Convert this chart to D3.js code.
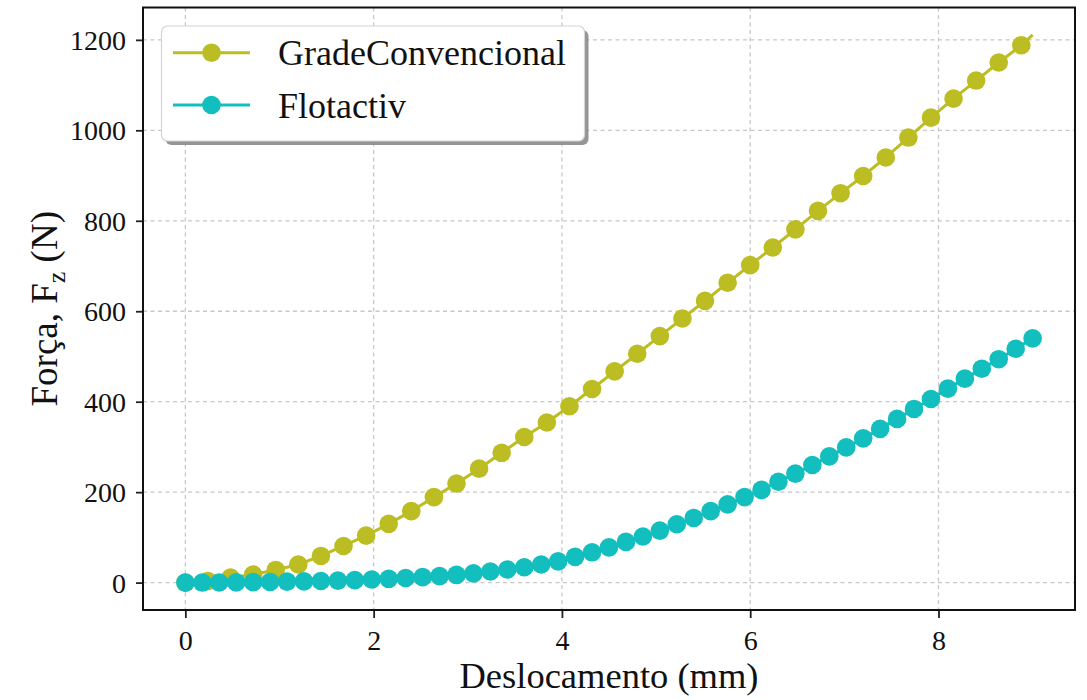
<!DOCTYPE html>
<html>
<head>
<meta charset="utf-8">
<script src="https://cdn.jsdelivr.net/npm/d3@7"></script>
<style>
  html, body { margin: 0; padding: 0; background: #ffffff; }
  svg { display: block; }
</style>
</head>
<body>
<svg id="chart" width="1087" height="700"></svg>
<script>
// ---- Data ----
const seriesNames = ["GradeConvencional", "Flotactiv"];

// GradeConvencional: markers every 0.24 mm; the final point (9.0) is line-only
const gradeX = [0, 0.24, 0.48, 0.72, 0.96, 1.20, 1.44, 1.68, 1.92, 2.16, 2.40, 2.64, 2.88,
  3.12, 3.36, 3.60, 3.84, 4.08, 4.32, 4.56, 4.80, 5.04, 5.28, 5.52, 5.76, 6.00, 6.24,
  6.48, 6.72, 6.96, 7.20, 7.44, 7.68, 7.92, 8.16, 8.40, 8.64, 8.88, 9.00];
const gradeF = [0, 3.5, 11, 18, 28, 40, 59, 81, 104, 130, 158, 189, 219,
  252, 287, 322, 354, 390, 428, 467, 506, 545, 584, 623, 663, 702, 741,
  781, 822, 861, 899, 940, 984, 1028, 1070, 1110, 1150, 1188, 1211];

// Flotactiv: markers every 0.18 mm
const flotX = [0, 0.18, 0.36, 0.54, 0.72, 0.90, 1.08, 1.26, 1.44, 1.62, 1.80, 1.98, 2.16,
  2.34, 2.52, 2.70, 2.88, 3.06, 3.24, 3.42, 3.60, 3.78, 3.96, 4.14, 4.32, 4.50, 4.68,
  4.86, 5.04, 5.22, 5.40, 5.58, 5.76, 5.94, 6.12, 6.30, 6.48, 6.66, 6.84, 7.02, 7.20,
  7.38, 7.56, 7.74, 7.92, 8.10, 8.28, 8.46, 8.64, 8.82, 9.00];
const flotF = [0, 0.1, 0.3, 0.6, 1.0, 1.5, 2.1, 2.8, 3.6, 4.5, 5.6, 6.9, 8.4,
  10.1, 12.1, 14.4, 17, 20.5, 24.5, 29, 34, 40, 47, 57, 67, 78, 90,
  102, 115, 129, 143, 158, 173, 189, 205, 223, 241, 260, 279, 299, 319,
  340, 362, 384, 406, 429, 451, 473, 494, 517, 540];

const xTicks = [0, 2, 4, 6, 8];
const yTicks = [0, 200, 400, 600, 800, 1000, 1200];
const xLabel = "Deslocamento (mm)";

// ---- Layout / style ----
const FONT = "'Liberation Serif', 'Times New Roman', serif";
const colors = ["#bcbd22", "#12bebe"];
const plot = { left: 143, right: 1075, top: 7.5, bottom: 610 };

const svg = d3.select("#chart");

const allF = gradeF.concat(flotF);
const fMin = Math.min(0, d3.min(allF)), fMax = d3.max(allF);
const xMin = d3.min(gradeX.concat(flotX)), xMax = d3.max(gradeX.concat(flotX));
const xPad = (xMax - xMin) * 0.05, yPad = (fMax - fMin) * 0.05;

const x = d3.scaleLinear().domain([xMin - xPad, xMax + xPad]).range([plot.left, plot.right]);
const y = d3.scaleLinear().domain([fMin - yPad, fMax + yPad]).range([plot.bottom, plot.top]);

// Grid
const grid = svg.append("g");
grid.selectAll("line.gx").data(xTicks).enter().append("line")
  .attr("x1", d => x(d)).attr("x2", d => x(d))
  .attr("y1", plot.top).attr("y2", plot.bottom)
  .attr("stroke", "#c8c8c8").attr("stroke-width", 1.3).attr("stroke-dasharray", "4,3.5");
grid.selectAll("line.gy").data(yTicks).enter().append("line")
  .attr("y1", d => y(d)).attr("y2", d => y(d))
  .attr("x1", plot.left).attr("x2", plot.right)
  .attr("stroke", "#c8c8c8").attr("stroke-width", 1.3).attr("stroke-dasharray", "4,3.5");

// Series
const series = [
  { name: seriesNames[0], pts: gradeX.map((v, i) => ({ x: v, f: gradeF[i] })), color: colors[0], markAll: false },
  { name: seriesNames[1], pts: flotX.map((v, i) => ({ x: v, f: flotF[i] })), color: colors[1], markAll: true }
];
const line = d3.line().x(d => x(d.x)).y(d => y(d.f));
const R = 9.3;
series.forEach(s => {
  const g = svg.append("g");
  g.append("path").attr("d", line(s.pts)).attr("fill", "none")
    .attr("stroke", s.color).attr("stroke-width", 3);
  const marked = s.markAll ? s.pts : s.pts.slice(0, s.pts.length - 1);
  g.selectAll("circle").data(marked).enter().append("circle")
    .attr("cx", d => x(d.x)).attr("cy", d => y(d.f)).attr("r", R)
    .attr("fill", s.color);
});

// Axes
const xAxis = svg.append("g").attr("transform", `translate(0,${plot.bottom})`)
  .call(d3.axisBottom(x).tickValues(xTicks).tickFormat(d3.format("d")).tickSize(8).tickPadding(6));
const yAxis = svg.append("g").attr("transform", `translate(${plot.left},0)`)
  .call(d3.axisLeft(y).tickValues(yTicks).tickFormat(d3.format("d")).tickSize(7).tickPadding(10));
[xAxis, yAxis].forEach(a => {
  a.attr("font-family", FONT).attr("font-size", 28);
  a.select(".domain").remove();
  a.selectAll(".tick line").attr("stroke", "#222").attr("stroke-width", 1.8);
  a.selectAll(".tick text").attr("fill", "#111").style("font-family", FONT).style("font-size", "28px");
});
xAxis.selectAll(".tick text").attr("dy", "0.92em");
yAxis.selectAll(".tick text").attr("dy", "0.34em");

// Frame
svg.append("rect").attr("x", plot.left).attr("y", plot.top)
  .attr("width", plot.right - plot.left).attr("height", plot.bottom - plot.top)
  .attr("fill", "none").attr("stroke", "#111").attr("stroke-width", 2);

// Axis labels
svg.append("text").attr("x", (plot.left + plot.right) / 2).attr("y", 688)
  .attr("text-anchor", "middle").style("font-family", FONT).style("font-size", "36.5px")
  .attr("fill", "#111").text(xLabel);

const yl = svg.append("text")
  .attr("transform", `translate(57,${(plot.top + plot.bottom) / 2}) rotate(-90)`)
  .attr("text-anchor", "middle").style("font-family", FONT).style("font-size", "37px")
  .attr("fill", "#111");
yl.append("tspan").text("Força, F");
yl.append("tspan").text("z").style("font-size", "26px").attr("dy", 8);
yl.append("tspan").text(" (N)").attr("dy", -8);

// Legend
const lg = svg.append("g");
const lb = { x: 161.5, y: 26, w: 423, h: 115 };
lg.append("rect").attr("x", lb.x + 4).attr("y", lb.y + 4).attr("width", lb.w).attr("height", lb.h)
  .attr("rx", 6).attr("fill", "#8a8a8a").attr("opacity", 0.9);
lg.append("rect").attr("x", lb.x).attr("y", lb.y).attr("width", lb.w).attr("height", lb.h)
  .attr("rx", 6).attr("fill", "#ffffff").attr("stroke", "#d4d4d4").attr("stroke-width", 1.2);
series.forEach((s, i) => {
  const cy = 52.7 + i * 52.3;
  lg.append("line").attr("x1", 173).attr("x2", 250).attr("y1", cy).attr("y2", cy)
    .attr("stroke", s.color).attr("stroke-width", 3);
  lg.append("circle").attr("cx", 211.5).attr("cy", cy).attr("r", R).attr("fill", s.color);
  lg.append("text").attr("x", 278).attr("y", cy).attr("dy", "0.35em")
    .style("font-family", FONT).style("font-size", "36px").attr("fill", "#111").text(s.name);
});
</script>
</body>
</html>
